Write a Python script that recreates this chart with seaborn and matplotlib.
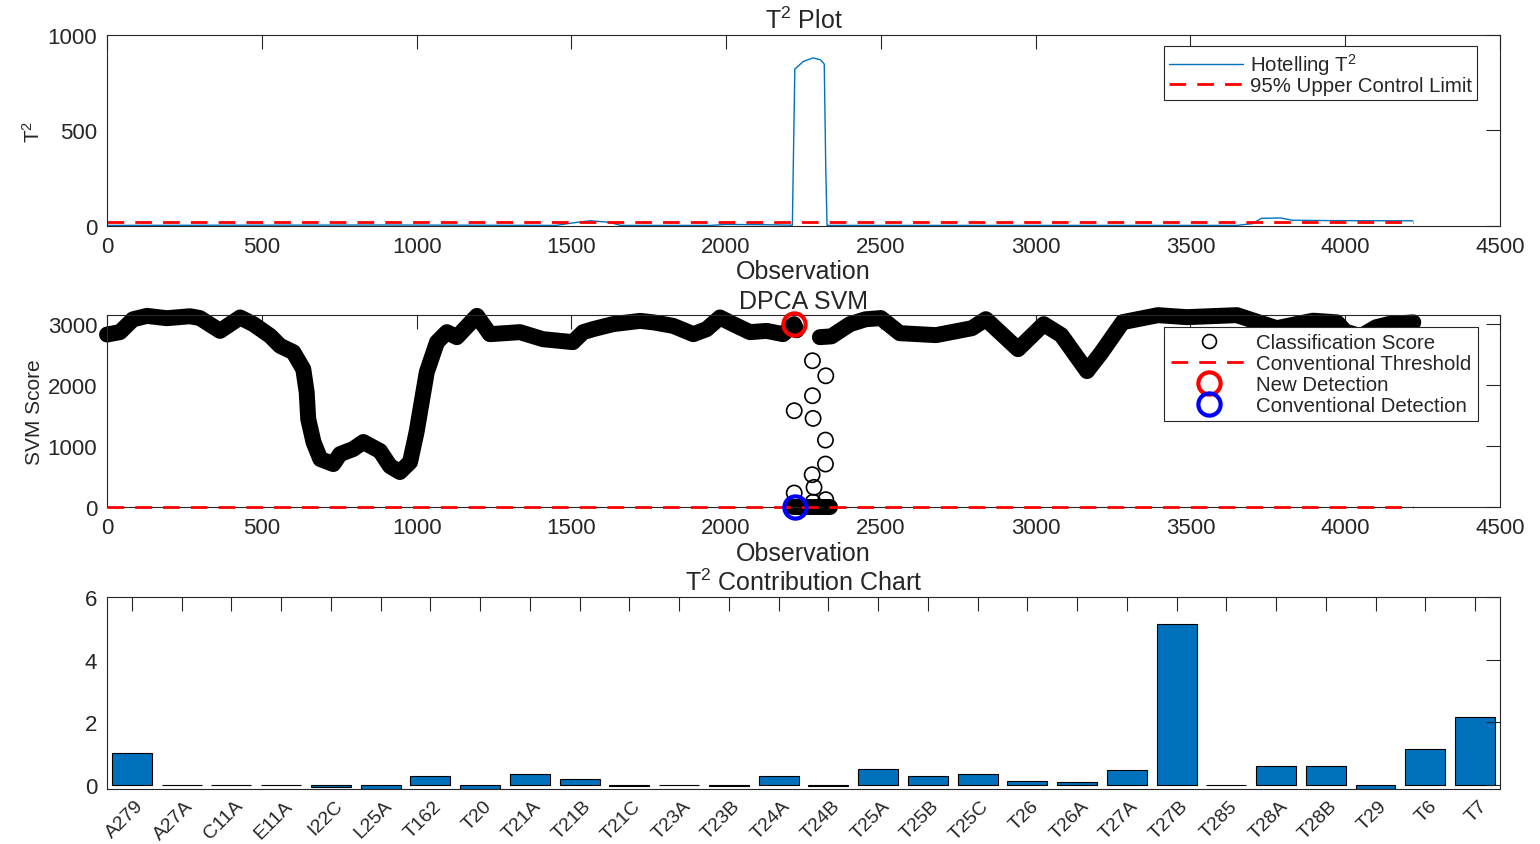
import numpy as np
import pandas as pd
import seaborn as sns
import matplotlib.pyplot as plt
from matplotlib.lines import Line2D
from matplotlib.transforms import ScaledTranslation

# ---- data ----
# Hotelling T^2 trace (observation, value)
t2_obs = [0, 400, 900, 1450, 1500, 1560, 1620, 1660, 1950, 2000, 2150, 2214,
          2222, 2250, 2281, 2305, 2317, 2322, 2326, 3000, 3650, 3700, 3730,
          3790, 3830, 3950, 4218]
t2_value = [3, 4, 5, 3, 15, 27, 20, 3, 3, 8, 6, 4,
            822, 862, 880, 870, 848, 300, 3, 3, 3, 12, 40,
            42, 30, 28, 27]
ucl_value = 19

# DPCA SVM classification score, dense band split in segments
band_obs_a = [0, 42, 84, 129, 193, 268, 300, 365, 430, 473, 527, 559, 602,
              634, 645, 650, 667, 689, 731, 753, 795, 828, 882, 914, 946, 979,
              1000, 1033, 1066, 1098, 1130, 1195, 1237, 1334, 1408, 1505, 1538,
              1570, 1634, 1722, 1765, 1829, 1894, 1937, 1980, 2023, 2077, 2131,
              2184, 2219, 2228]
band_score_a = [2830, 2870, 3080, 3136, 3098, 3130, 3100, 2890, 3110, 3000,
                2808, 2645, 2540, 2262, 1885, 1443, 1066, 787, 705, 869, 951,
                1066, 918, 672, 574, 738, 1230, 2213, 2705, 2869, 2787, 3136,
                2836, 2869, 2754, 2705, 2869, 2918, 3000, 3054, 3030, 2972,
                2836, 2918, 3110, 3000, 2869, 2890, 2836, 3000, 2900]
band_obs_b = [2303, 2340, 2400, 2450, 2500, 2561, 2678, 2794, 2839, 2943,
              3026, 3083, 3166, 3211, 3281, 3395, 3488, 3650, 3779, 3896,
              3973, 4000, 4050, 4100, 4140, 4220]
band_score_b = [2787, 2800, 3000, 3080, 3100, 2852, 2820, 2934, 3082, 2590,
                3000, 2820, 2230, 2525, 3033, 3148, 3115, 3148, 2934, 3057,
                3030, 2880, 2800, 2950, 3000, 3030]
band_obs_c = [2216, 2335]
band_score_c = [0, 0]

outlier_obs = [2279, 2322, 2279, 2220, 2281, 2321, 2321, 2278, 2284, 2220, 2322, 2281]
outlier_score = [2400, 2153, 1826, 1580, 1454, 1098, 705, 530, 322, 230, 120, 80]

threshold_value = 0
new_detection = (2219, 3000)
conv_detection = (2224, 0)

# T^2 contributions
variables = ['A279', 'A27A', 'C11A', 'E11A', 'I22C', 'L25A', 'T162', 'T20',
             'T21A', 'T21B', 'T21C', 'T23A', 'T23B', 'T24A', 'T24B', 'T25A',
             'T25B', 'T25C', 'T26', 'T26A', 'T27A', 'T27B', 'T285', 'T28A',
             'T28B', 'T29', 'T6', 'T7']
contribution = [1.03, -0.01, 0.0, 0.0, -0.08, -0.12, 0.29, -0.14,
                0.34, 0.18, -0.04, 0.0, -0.03, 0.28, -0.04, 0.52,
                0.29, 0.35, 0.14, 0.10, 0.49, 5.14, 0.0, 0.61,
                0.62, -0.12, 1.15, 2.17]

# ---- style ----
sns.set_style('white')
plt.rcParams['font.family'] = ['Liberation Sans', 'DejaVu Sans']
plt.rcParams['mathtext.default'] = 'regular'
plt.rcParams['text.color'] = '#262626'
plt.rcParams['axes.labelcolor'] = '#262626'
plt.rcParams['xtick.color'] = '#262626'
plt.rcParams['ytick.color'] = '#262626'

BLUE = '#0072BD'
TICK = 16
LAB = 18
YLAB = 15
LEG = 14.7


def style_axes(ax):
    for s in ax.spines.values():
        s.set_color('#262626')
        s.set_linewidth(0.8)
    ax.tick_params(direction='in', top=True, right=True, length=10, width=0.8,
                   labelsize=TICK, pad=7)


fig = plt.figure(figsize=(15.4, 8.45), dpi=100)
ax1 = fig.add_axes([0.0695, 0.7314, 0.9045, 0.226])
ax2 = fig.add_axes([0.0695, 0.3988, 0.9045, 0.2272])
ax3 = fig.add_axes([0.0695, 0.0651, 0.9045, 0.2272])

# ---- T^2 plot ----
sns.lineplot(x=t2_obs, y=t2_value, ax=ax1, color=BLUE, lw=1.0,
             estimator=None, label='Hotelling T$^2$')
ucl_x = [t2_obs[0], t2_obs[-1]]
ax1.plot(ucl_x, [ucl_value, ucl_value], color='red', lw=2, ls='--',
         dashes=(6, 4), label='95% Upper Control Limit')
ax1.set_xlim(0, 4500)
ax1.set_ylim(0, 1000)
ax1.set_xticks(range(0, 4501, 500))
ax1.set_yticks([0, 500, 1000])
ax1.set_title('T$^2$ Plot', fontsize=LAB, pad=5)
ax1.set_xlabel('Observation', fontsize=LAB, labelpad=2)
ax1.set_ylabel('T$^2$', fontsize=YLAB, labelpad=3)
style_axes(ax1)
leg1 = ax1.legend(loc='upper right', bbox_to_anchor=(0.9835, 0.942),
                  fontsize=LEG, frameon=True, fancybox=False, framealpha=1,
                  edgecolor='#262626', handlelength=3.6, handletextpad=0.35,
                  labelspacing=-0.04, borderpad=0.25, borderaxespad=0)
leg1.get_frame().set_linewidth(0.8)

# ---- DPCA SVM ----
for bx, by in [(band_obs_a, band_score_a), (band_obs_b, band_score_b),
               (band_obs_c, band_score_c)]:
    sns.lineplot(x=bx, y=by, ax=ax2, color='black', lw=11.5, estimator=None,
                 sort=False, solid_capstyle='round', solid_joinstyle='round',
                 clip_on=False, zorder=2)
sns.scatterplot(x=outlier_obs, y=outlier_score, ax=ax2, marker='o', s=120,
                facecolor='none', edgecolor='black', linewidth=1.2,
                clip_on=False, zorder=3)
ax2.plot([band_obs_a[0], band_obs_b[-1]], [threshold_value, threshold_value],
         color='red', lw=2, ls='--', dashes=(6, 4), zorder=4, clip_on=False)
ax2.plot([new_detection[0]], [new_detection[1]], 'o', ms=16, mfc='none',
         mec='red', mew=3, zorder=5, clip_on=False)
ax2.plot([conv_detection[0]], [conv_detection[1]], 'o', ms=16, mfc='none',
         mec='blue', mew=3, zorder=5, clip_on=False)
ax2.set_xlim(0, 4500)
ax2.set_ylim(0, 3150)
ax2.set_xticks(range(0, 4501, 500))
ax2.set_yticks([0, 1000, 2000, 3000])
ax2.set_title('DPCA SVM', fontsize=LAB, pad=5)
ax2.set_xlabel('Observation', fontsize=LAB, labelpad=2)
ax2.set_ylabel('SVM Score', fontsize=YLAB, labelpad=3)
style_axes(ax2)
handles = [
    Line2D([], [], marker='o', ls='none', mfc='none', mec='black', ms=10, mew=1.2),
    Line2D([], [], color='red', lw=2, ls='--', dashes=(6, 4)),
    Line2D([], [], marker='o', ls='none', mfc='none', mec='red', ms=16, mew=3),
    Line2D([], [], marker='o', ls='none', mfc='none', mec='blue', ms=16, mew=3),
]
labels = ['Classification Score', 'Conventional Threshold', 'New Detection',
          'Conventional Detection']
leg2 = ax2.legend(handles, labels, loc='upper right',
                  bbox_to_anchor=(0.984, 0.9375), fontsize=LEG, frameon=True,
                  fancybox=False, framealpha=1, edgecolor='#262626',
                  handlelength=3.8, handletextpad=0.4, labelspacing=0.1,
                  borderpad=0.3, borderaxespad=0)
leg2.get_frame().set_linewidth(0.8)
leg2.set_zorder(10)

# ---- contribution chart ----
sns.barplot(x=variables, y=contribution, ax=ax3, color=BLUE, saturation=1,
            edgecolor='black', linewidth=0.8, width=0.8)
ax3.set_xlim(-0.5, len(variables) - 0.5)
ax3.set_ylim(-0.13, 6)
ax3.set_yticks([0, 2, 4, 6])
ax3.set_title('T$^2$ Contribution Chart', fontsize=LAB, pad=5)
style_axes(ax3)
ax3.set_axisbelow(False)
ax3.tick_params(axis='x', pad=10, labelsize=14)
shift = ScaledTranslation(9 / 100, 0, fig.dpi_scale_trans)
for lbl in ax3.get_xticklabels():
    lbl.set_rotation(45)
    lbl.set_ha('right')
    lbl.set_va('center')
    lbl.set_rotation_mode('anchor')
    lbl.set_transform(lbl.get_transform() + shift)

fig.savefig('out.png', dpi=100)
